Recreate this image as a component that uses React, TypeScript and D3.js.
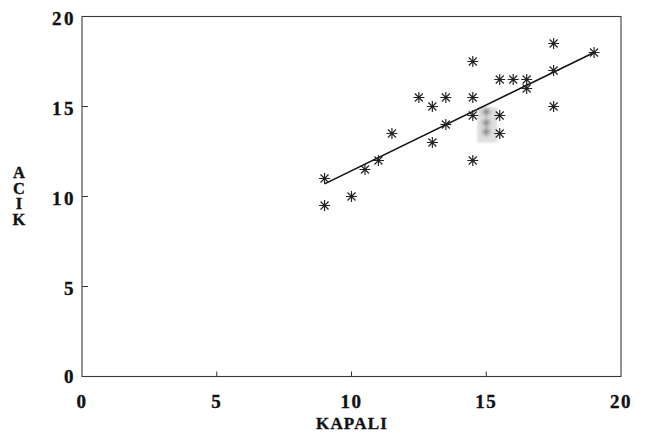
import React from "react";
import * as d3 from "d3";

// KAPALI (x) / ACIK (y) paired observations
const kapali = [9, 9, 10, 10.5, 11, 11.5, 12.5, 13, 13, 13.5, 13.5, 14.5, 14.5, 14.5, 14.5, 15.5, 15.5, 15.5, 16, 16.5, 16.5, 17.5, 17.5, 17.5, 19];
const acik = [11, 9.5, 10, 11.5, 12, 13.5, 15.5, 15, 13, 15.5, 14, 17.5, 15.5, 14.5, 12, 14.5, 13.5, 16.5, 16.5, 16.5, 16, 18.5, 17, 15, 18];

// overlapping observations printed faintly in the shaded band
const fadedKapali = [15, 15, 15];
const fadedAcik = [14.7, 14.1, 13.6];

// fitted line end points
const fitKapali = [9, 19];
const fitAcik = [10.7, 18.0];

const xTicks = [0, 5, 10, 15, 20];
const yTicks = [0, 5, 10, 15, 20];
const xTitle = "KAPALI";
const yTitle = "ACIK";

const W = 649;
const H = 436;
const FONT = "'Liberation Serif', 'DejaVu Serif', serif";

function starPath(cx: number, cy: number, r: number, rd: number) {
  return (
    `M${cx - r},${cy}L${cx + r},${cy}` +
    `M${cx},${cy - r}L${cx},${cy + r}` +
    `M${cx - rd},${cy - rd}L${cx + rd},${cy + rd}` +
    `M${cx - rd},${cy + rd}L${cx + rd},${cy - rd}`
  );
}

export default function App() {
  const x = d3.scaleLinear().domain([0, 20]).range([82, 621]);
  const y = d3.scaleLinear().domain([0, 20]).range([376.5, 16.5]);

  const line = d3
    .line<number>()
    .x((_, i) => x(fitKapali[i]))
    .y((d) => y(d));

  const bandX0 = x(15) - 9;
  const bandY0 = y(14.95);
  const bandY1 = y(13.0);

  const textStyle = { stroke: "#111", strokeWidth: 0.35 };

  return (
    <svg
      width={W}
      height={H}
      style={{ position: "absolute", left: 0, top: 0, background: "#fff" }}
      fontFamily={FONT}
    >
      <defs>
        <filter id="soft" x="-20%" y="-20%" width="140%" height="140%">
          <feGaussianBlur stdDeviation="1.2" />
        </filter>
      </defs>

      {/* frame */}
      <rect
        x={x(0)}
        y={y(20)}
        width={x(20) - x(0)}
        height={y(0) - y(20)}
        fill="none"
        stroke="#3a3a3a"
        strokeWidth={1.1}
      />

      {/* inward ticks */}
      {xTicks.slice(1, -1).map((t) => (
        <line key={"xt" + t} x1={x(t)} x2={x(t)} y1={y(0)} y2={y(0) - 5} stroke="#333" strokeWidth={1} />
      ))}
      {yTicks.slice(1, -1).map((t) => (
        <line key={"yt" + t} x1={x(0)} x2={x(0) + 6} y1={y(t)} y2={y(t)} stroke="#333" strokeWidth={1} />
      ))}

      {/* tick labels */}
      {xTicks.map((t) => (
        <text
          key={"xl" + t}
          x={x(t)}
          y={407.5}
          textAnchor="middle"
          fontSize={19}
          fontWeight="bold"
          letterSpacing={1.5}
          fill="#111"
          style={textStyle}
        >
          {t}
        </text>
      ))}
      {yTicks.map((t) => (
        <text
          key={"yl" + t}
          x={76}
          y={y(t) + (t === 0 ? 6.5 : 8.5)}
          textAnchor="end"
          fontSize={19}
          fontWeight="bold"
          letterSpacing={2.5}
          fill="#111"
          style={textStyle}
        >
          {t}
        </text>
      ))}

      {/* axis titles */}
      <text x={352} y={429} textAnchor="middle" fontSize={17} fontWeight="bold" letterSpacing={1.2} fill="#111" style={textStyle}>
        {xTitle}
      </text>
      <text
        x={19}
        y={163}
        fontSize={16.5}
        fontWeight="bold"
        letterSpacing={-3.5}
        fill="#111"
        style={{ ...textStyle, writingMode: "vertical-rl", textOrientation: "upright" } as React.CSSProperties}
      >
        {yTitle}
      </text>

      {/* shaded band with faint overlapping points */}
      <rect
        x={bandX0}
        y={bandY0}
        width={20}
        height={bandY1 - bandY0}
        fill="#d6d6d6"
        opacity={0.8}
        filter="url(#soft)"
      />
      {fadedKapali.map((k, i) => (
        <path
          key={"f" + i}
          d={starPath(x(k), y(fadedAcik[i]), 5, 3.6)}
          stroke="#777"
          strokeWidth={1}
          fill="none"
          filter="url(#soft)"
        />
      ))}

      {/* fitted line */}
      <path d={line(fitAcik) || ""} fill="none" stroke="#111" strokeWidth={1.6} />

      {/* observations */}
      {kapali.map((k, i) => (
        <path
          key={"p" + i}
          d={starPath(x(k), y(acik[i]), 5.5, 4)}
          stroke="#222"
          strokeWidth={1.15}
          fill="none"
        />
      ))}
    </svg>
  );
}
